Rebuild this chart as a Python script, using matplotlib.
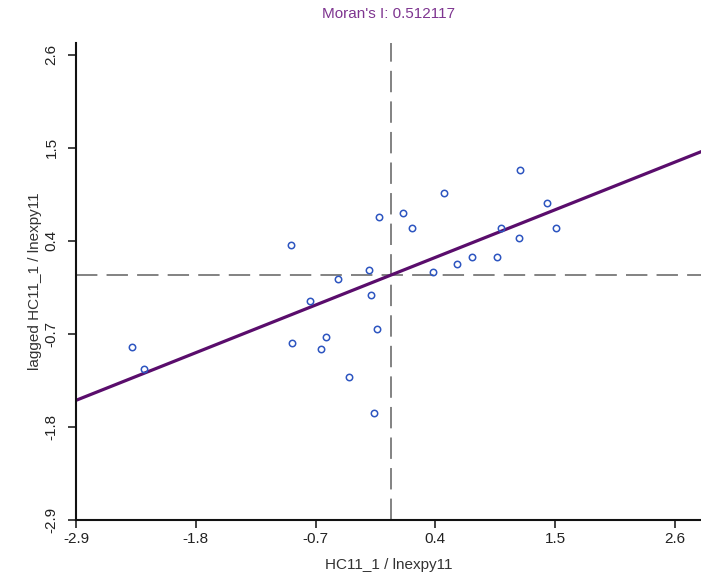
import numpy as np
import matplotlib
matplotlib.use('Agg')
from matplotlib import pyplot as plt

plt.rcParams['font.family'] = ['Liberation Sans', 'DejaVu Sans']

# standardized variable and its spatial lag
hc11 = [-2.39, -2.28, -0.93, -0.92, -0.75, -0.65, -0.60, -0.49, -0.39, -0.21,
        -0.19, -0.16, -0.14, -0.12, 0.10, 0.19, 0.38, 0.48, 0.60, 0.74,
        0.97, 1.00, 1.18, 1.17, 1.43, 1.51]
lagged = [-0.86, -1.12, 0.35, -0.81, -0.31, -0.88, -0.74, -0.05, -1.21, 0.06,
          -0.24, -1.63, -0.64, 0.68, 0.73, 0.55, 0.03, 0.97, 0.13, 0.21,
          0.21, 0.55, 1.24, 0.43, 0.85, 0.55]
morans_i = 0.512117
ticks = [-2.9, -1.8, -0.7, 0.4, 1.5, 2.6]

fig = plt.figure(figsize=(7.01, 5.76), dpi=100)
ax = fig.add_axes([76/701, 56/576, 625/701, 477/576])

xlim = (-2.9, 2.84)
ylim = (-2.9, 2.74)

# quadrant lines
ax.axvline(-0.01, color='#606060', lw=1.1, dashes=(14, 6), zorder=1)
ax.axhline(0, color='#606060', lw=1.1, dashes=(14, 6), zorder=1)

# regression line, slope = Moran's I
xs = np.array(xlim)
ax.plot(xs, morans_i * xs, color='#5a0d6c', lw=2.3, zorder=2)

ax.plot(hc11, lagged, 'o', mfc='none', mec='#2d55c0', ms=4.6, mew=1.1, zorder=3)

ax.set_xlim(xlim)
ax.set_ylim(ylim)
ax.set_xticks(ticks)
ax.set_yticks(ticks)
ax.set_xticklabels([str(t) for t in ticks])
ax.set_yticklabels([str(t) for t in ticks], rotation=90, va='center')
ax.tick_params(direction='out', length=5.5, width=1.2, labelsize=11, colors='#222222')
ax.tick_params(axis='x', pad=3)
ax.tick_params(axis='y', pad=7)

for s in ['top', 'right']:
    ax.spines[s].set_visible(False)
for s in ['left', 'bottom']:
    ax.spines[s].set_linewidth(1.5)
    ax.spines[s].set_color('#111111')

ax.set_xlabel('HC11_1 / lnexpy11', fontsize=11, color='#333333', labelpad=9)
ax.set_ylabel('lagged HC11_1 / lnexpy11', fontsize=11, color='#333333', labelpad=2)
fig.text(388/701, 1 - 14/576, "Moran's I: 0.512117", ha='center', va='center',
         fontsize=11, color='#7e3590')

fig.savefig('out.png', dpi=100)
